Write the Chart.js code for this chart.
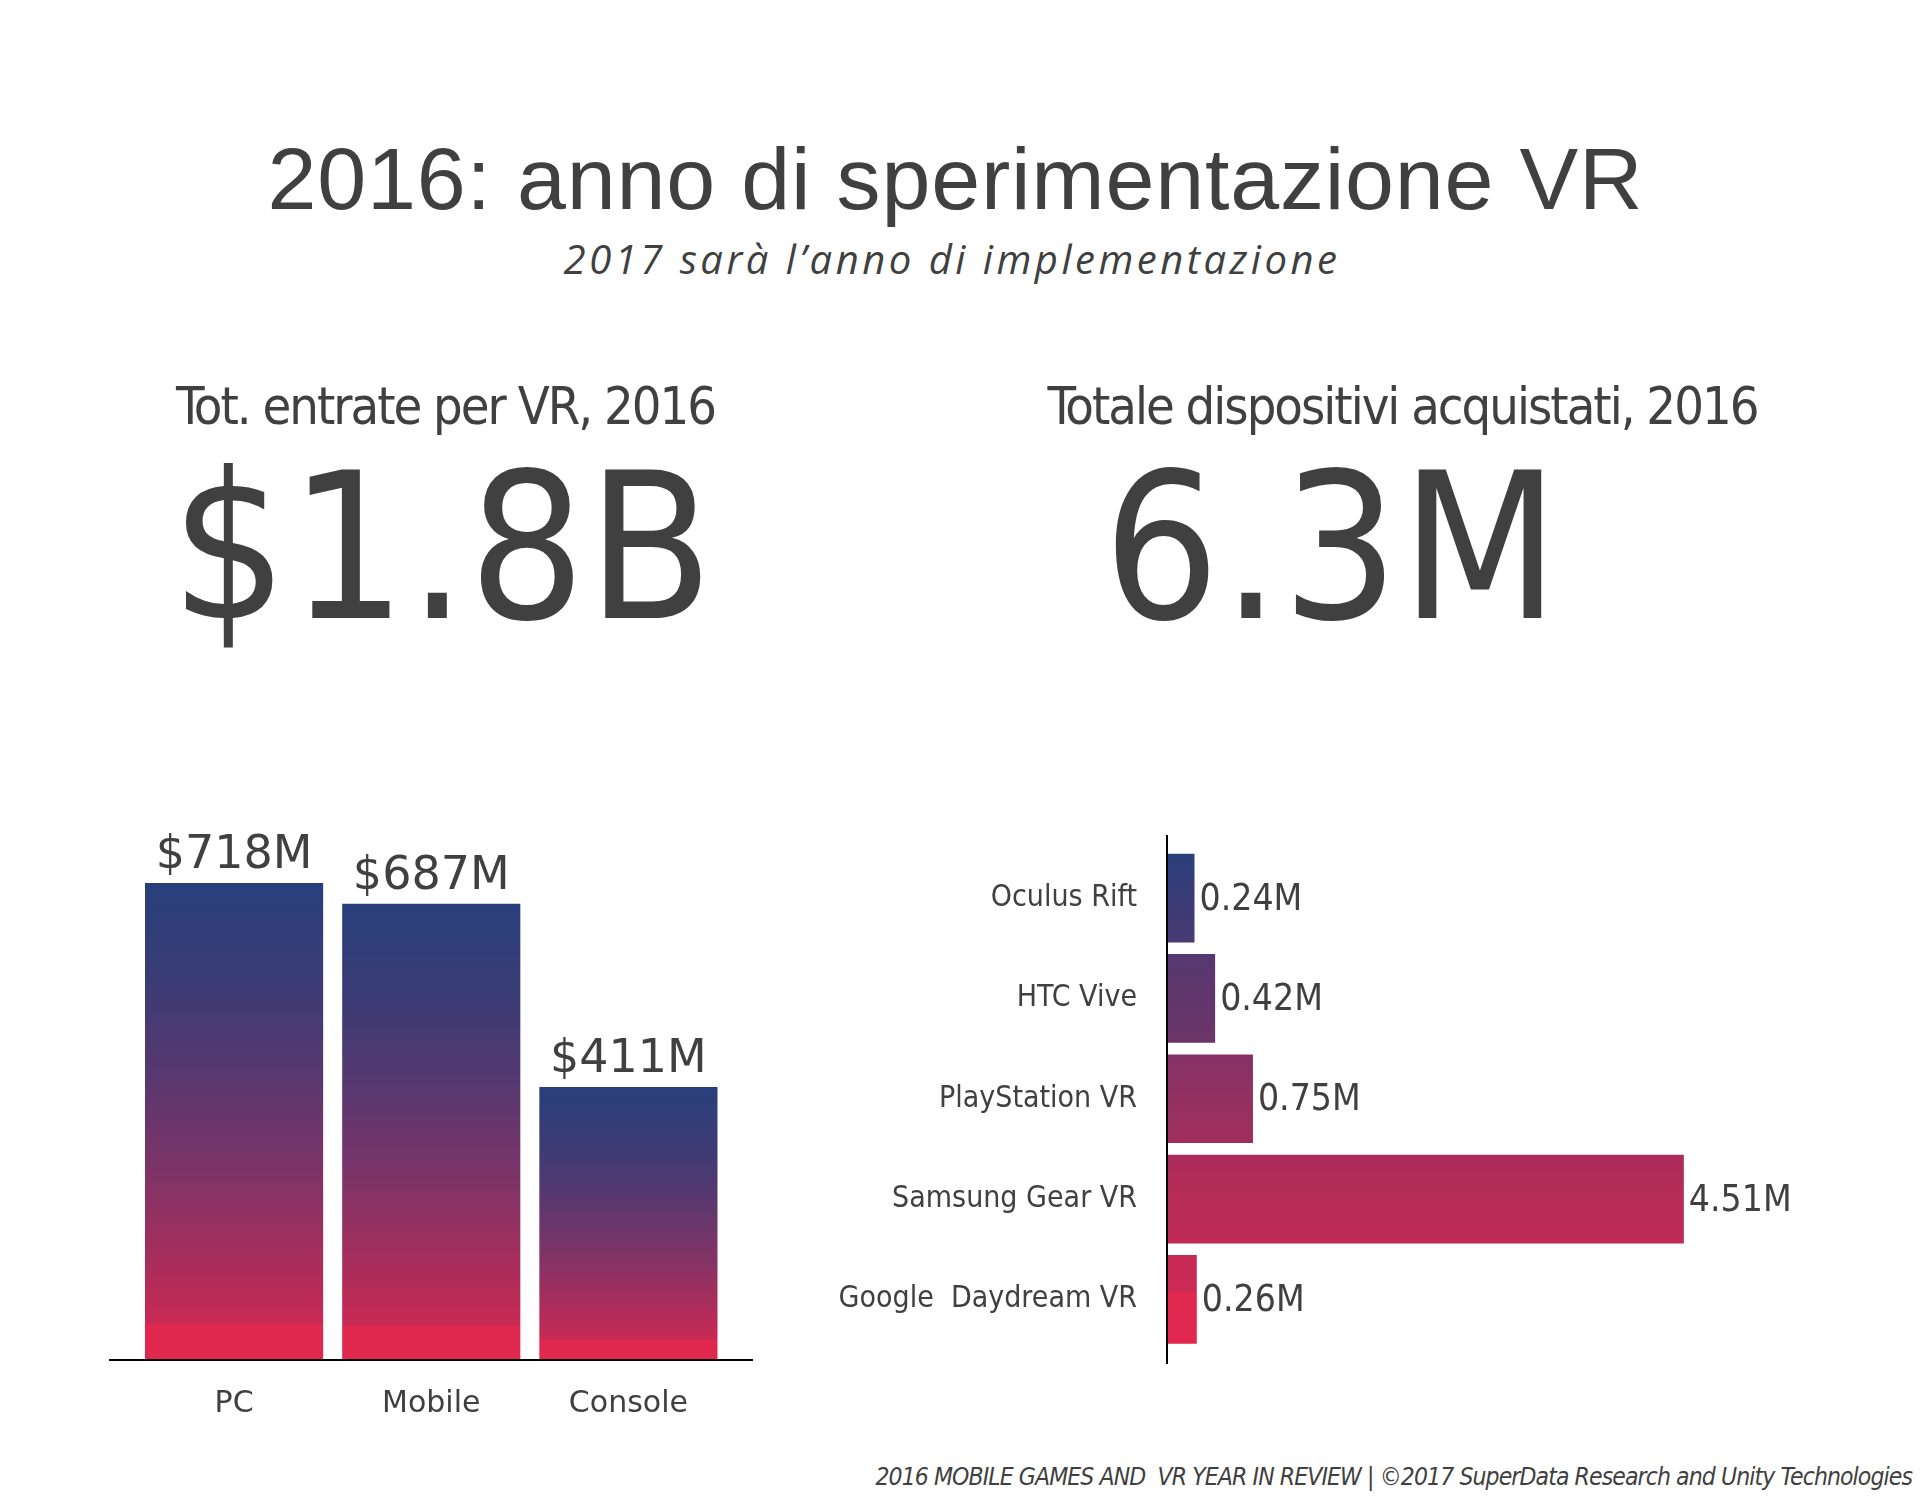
<!DOCTYPE html>
<html>
<head>
<meta charset="utf-8">
<script src="https://cdn.jsdelivr.net/npm/chart.js@4.4.1/dist/chart.umd.min.js"></script>
<style>
html,body{margin:0;padding:0;background:#fff;}
#page{position:relative;width:1926px;height:1504px;overflow:hidden;background:#fff;color:#404040;}
.t{position:absolute;white-space:pre;line-height:1;text-align:center;width:2000px;}
.cond{font-family:"DejaVu Sans Condensed","DejaVu Sans",sans-serif;font-stretch:condensed;}
#title{font-family:"Liberation Sans",Arial,sans-serif;font-size:88px;letter-spacing:0.8px;left:-44.5px;top:134.5px;}
#subtitle{font-family:"Open Sans",sans-serif;font-style:italic;font-size:40px;letter-spacing:3.5px;left:-48px;top:238.5px;}
.hdr{font-size:52px;letter-spacing:-2px;top:380px;}
#h1{left:-554.5px;}
#h2{left:402.5px;}
.big{font-size:204px;letter-spacing:2px;top:445.5px;}
#b1{left:-557px;}
#b2{left:332px;}
#footer{position:absolute;white-space:pre;line-height:1;right:14px;top:1465px;font-size:24.5px;letter-spacing:-0.9px;font-style:italic;}
#lc{position:absolute;left:0;top:800px;width:800px;height:640px;}
#rc{position:absolute;left:800px;top:800px;width:1126px;height:640px;}
</style>
</head>
<body>
<div id="page">
  <div class="t" id="title">2016: anno di sperimentazione VR</div>
  <div class="t" id="subtitle">2017 sarà l’anno di implementazione</div>
  <div class="t hdr cond" id="h1">Tot. entrate per VR, 2016</div>
  <div class="t hdr cond" id="h2">Totale dispositivi acquistati, 2016</div>
  <div class="t big cond" id="b1">$1.8B</div>
  <div class="t big cond" id="b2">6.3M</div>
  <div id="lc"><canvas id="left"></canvas></div>
  <div id="rc"><canvas id="right"></canvas></div>
  <div id="footer" class="cond">2016 MOBILE GAMES AND  VR YEAR IN REVIEW | ©2017 SuperData Research and Unity Technologies</div>
</div>
<script>
// ---- data ----
const revenueCategories = ['PC', 'Mobile', 'Console'];
const revenueValues = [718, 687, 411];           // $M
const deviceCategories = ['Oculus Rift', 'HTC Vive', 'PlayStation VR', 'Samsung Gear VR', 'Google  Daydream VR'];
const deviceValues = [0.24, 0.42, 0.75, 4.51, 0.26]; // M units

const TEXT = '#404040';
const COND = "'DejaVu Sans Condensed', 'DejaVu Sans', sans-serif";

// per-bar vertical gradient (left chart)
function leftGradient(context) {
  const chart = context.chart;
  if (!chart.chartArea || context.type !== 'data') return '#6a3569';
  const y = chart.scales.y;
  const top = y.getPixelForValue(context.raw);
  const bottom = y.getPixelForValue(0);
  const g = chart.ctx.createLinearGradient(0, top, 0, bottom);
  g.addColorStop(0.00, '#283f7b');
  g.addColorStop(0.20, '#3b3c75');
  g.addColorStop(0.38, '#543870');
  g.addColorStop(0.55, '#73356a');
  g.addColorStop(0.72, '#973060');
  g.addColorStop(0.86, '#b92b57');
  g.addColorStop(0.925, '#c92a54');
  g.addColorStop(0.926, '#e0284f');
  g.addColorStop(1.00, '#e0284f');
  return g;
}

// one vertical gradient across the whole plot area (right chart)
function rightGradient(context) {
  const chart = context.chart;
  const a = chart.chartArea;
  if (!a) return '#8e3063';
  const g = chart.ctx.createLinearGradient(0, a.top, 0, a.bottom);
  g.addColorStop(0.00, '#283f7c');
  g.addColorStop(0.19, '#4a3a72');
  g.addColorStop(0.21, '#553870');
  g.addColorStop(0.39, '#6d3568');
  g.addColorStop(0.41, '#843266');
  g.addColorStop(0.59, '#a22e5c');
  g.addColorStop(0.61, '#ac2d5a');
  g.addColorStop(0.79, '#c02a56');
  g.addColorStop(0.81, '#c72a55');
  g.addColorStop(0.885, '#cb2a54');
  g.addColorStop(0.886, '#e0284f');
  g.addColorStop(1.00, '#e1274f');
  return g;
}

const valueLabels = {
  id: 'valueLabels',
  afterDatasetsDraw(chart, args, o) {
    const ctx = chart.ctx;
    const meta = chart.getDatasetMeta(0);
    const data = chart.data.datasets[0].data;
    ctx.save();
    ctx.fillStyle = o.color;
    ctx.font = o.font;
    meta.data.forEach((bar, i) => {
      const text = o.prefix + data[i].toFixed(o.decimals) + o.suffix;
      if (o.horizontal) {
        ctx.textAlign = 'left';
        ctx.textBaseline = 'middle';
        ctx.fillText(text, bar.x + o.offset, bar.y + 2);
      } else {
        ctx.textAlign = 'center';
        ctx.textBaseline = 'alphabetic';
        ctx.fillText(text, bar.x, bar.y - o.offset);
      }
    });
    ctx.restore();
  }
};

const axisLine = {
  id: 'axisLine',
  afterDatasetsDraw(chart, args, o) {
    const a = chart.chartArea;
    const ctx = chart.ctx;
    ctx.save();
    ctx.strokeStyle = '#000';
    ctx.lineWidth = 2;
    ctx.beginPath();
    if (o.vertical) {
      ctx.moveTo(a.left, a.top - o.before);
      ctx.lineTo(a.left, a.bottom + o.after);
    } else {
      ctx.moveTo(a.left - o.before, a.bottom);
      ctx.lineTo(a.right + o.after, a.bottom);
    }
    ctx.stroke();
    ctx.restore();
  }
};

new Chart(document.getElementById('left'), {
  type: 'bar',
  data: {
    labels: revenueCategories,
    datasets: [{
      data: revenueValues,
      backgroundColor: leftGradient,
      borderWidth: 0,
      barPercentage: 0.9036,
      categoryPercentage: 1
    }]
  },
  options: {
    responsive: true,
    maintainAspectRatio: false,
    animation: false,
    events: [],
    layout: { padding: { left: 135.5, right: 73, top: 20, bottom: 0 } },
    plugins: {
      legend: { display: false },
      tooltip: { enabled: false },
      valueLabels: { color: TEXT, font: "46px 'DejaVu Sans', sans-serif", prefix: '$', suffix: 'M', decimals: 0, offset: 15, horizontal: false },
      axisLine: { vertical: false, before: 26.5, after: 26 }
    },
    scales: {
      x: {
        grid: { display: false, drawTicks: false },
        border: { display: false },
        ticks: { color: TEXT, font: { family: "'DejaVu Sans', sans-serif", size: 30 }, padding: 26 },
        afterFit: s => { s.height = 80; }
      },
      y: { display: false, min: 0, max: 813 }
    }
  },
  plugins: [valueLabels, axisLine]
});

new Chart(document.getElementById('right'), {
  type: 'bar',
  data: {
    labels: deviceCategories,
    datasets: [{
      data: deviceValues,
      backgroundColor: rightGradient,
      borderWidth: 0,
      barPercentage: 0.884,
      categoryPercentage: 1
    }]
  },
  options: {
    indexAxis: 'y',
    responsive: true,
    maintainAspectRatio: false,
    animation: false,
    events: [],
    layout: { padding: { left: 0, right: 71.4, top: 42, bottom: 90.5 } },
    plugins: {
      legend: { display: false },
      tooltip: { enabled: false },
      valueLabels: { color: TEXT, font: "37px " + COND, prefix: '', suffix: 'M', decimals: 2, offset: 5, horizontal: true },
      axisLine: { vertical: true, before: 13, after: 14.5 }
    },
    scales: {
      y: {
        grid: { display: false, drawTicks: false },
        border: { display: false },
        ticks: { color: TEXT, font: { family: COND, size: 30 }, padding: 30 },
        afterFit: s => { s.width = 367; }
      },
      x: { display: false, min: 0, max: 6 }
    }
  },
  plugins: [valueLabels, axisLine]
});
</script>
</body>
</html>
